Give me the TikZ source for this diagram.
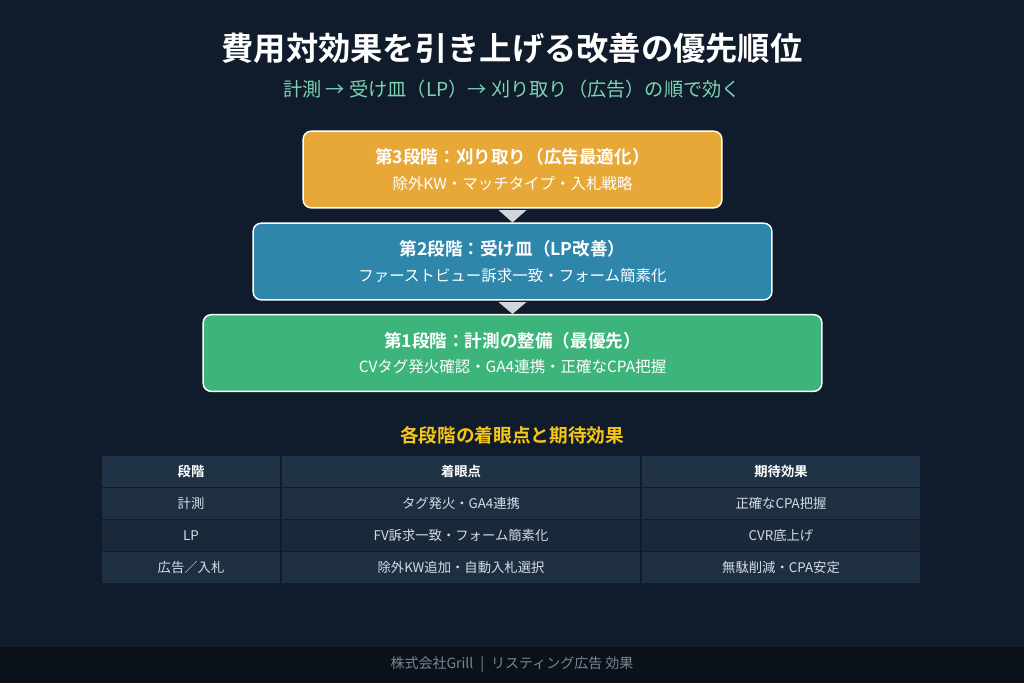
\documentclass[tikz,border=0pt]{standalone}
\usepackage{fontspec}
\setmainfont{Noto Sans CJK JP}[BoldFont={Noto Sans CJK JP Bold}]
\usetikzlibrary{calc}
\definecolor{fondo}{HTML}{101C2C}
\definecolor{pie}{HTML}{0A1119}
\definecolor{naranja}{HTML}{E8A838}
\definecolor{azul}{HTML}{2E86AB}
\definecolor{verde}{HTML}{3DB57A}
\definecolor{menta}{HTML}{7DD3B0}
\definecolor{oro}{HTML}{F5C518}
\definecolor{celdafondo}{HTML}{1E2F41}
\definecolor{celdaosc}{HTML}{192939}
\definecolor{celdacab}{HTML}{1F3246}
\definecolor{textotabla}{HTML}{D5DCE4}
\definecolor{gris}{HTML}{7A8594}
\definecolor{punta}{HTML}{D2D6DC}
\tikzset{
  caja/.style={draw=white,line width=1.1pt,rounded corners=6pt,text=white,align=center,minimum height=57.5pt,inner sep=0pt},
  flecha/.style={fill=punta,draw=none},
  celda/.style={fill=celdafondo,text=textotabla,minimum height=23.25pt,inner sep=0pt,font=\fontsize{10}{12}\selectfont},
  celdab/.style={celda,fill=celdaosc},
  cabecera/.style={celda,fill=celdacab,text=white,font=\fontsize{10}{12}\selectfont\bfseries},
}
\begin{document}
\begin{tikzpicture}[x=0.75pt,y=-0.75pt]
\fill[fondo] (0,0) rectangle (1024,683);
\fill[pie] (0,647) rectangle (1024,683);
\useasboundingbox (0,0) rectangle (1024,683);
% titulo
\node[text=white,font=\fontsize{24.2}{29}\selectfont\bfseries] (titulo) at (512,48) {費用対効果を引き上げる改善の優先順位};
\node[text=menta,font=\fontsize{14.4}{17}\selectfont] (subtitulo) at (512,89) {計測 → 受け皿（LP）→ 刈り取り（広告）の順で効く};
% etapas
\node[caja,fill=naranja,minimum width=314pt] (e3) at (512.5,169.5) {{\fontsize{13.2}{16}\selectfont\bfseries 第3段階：刈り取り（広告最適化）}\\[7pt]{\fontsize{11.6}{14}\selectfont 除外KW・マッチタイプ・入札戦略}};
\node[caja,fill=azul,minimum width=389pt] (e2) at (512.5,261.5) {{\fontsize{13.2}{16}\selectfont\bfseries 第2段階：受け皿（LP改善）}\\[7pt]{\fontsize{11.6}{14}\selectfont ファーストビュー訴求一致・フォーム簡素化}};
\node[caja,fill=verde,minimum width=464pt] (e1) at (512.5,353) {{\fontsize{13.2}{16}\selectfont\bfseries 第1段階：計測の整備（最優先）}\\[7pt]{\fontsize{11.6}{14}\selectfont CVタグ発火確認・GA4連携・正確なCPA把握}};
\fill[flecha] ($(e3.south)+(-14,1.5)$) -- ($(e3.south)+(14,1.5)$) -- (e2.north) -- cycle;
\fill[flecha] ($(e2.south)+(-14,1.5)$) -- ($(e2.south)+(14,1.5)$) -- (e1.north) -- cycle;
% tabla
\node[text=oro,font=\fontsize{14}{17}\selectfont\bfseries] (tabtitulo) at (512,435) {各段階の着眼点と期待効果};
\node[cabecera,minimum width=133.5pt] (t11) at (191,471.5) {段階};
\node[cabecera,minimum width=268.5pt] (t12) at (461,471.5) {着眼点};
\node[cabecera,minimum width=208.5pt] (t13) at (781,471.5) {期待効果};
\node[celda,minimum width=133.5pt] (t21) at (191,503.5) {計測};
\node[celda,minimum width=268.5pt] (t22) at (461,503.5) {タグ発火・GA4連携};
\node[celda,minimum width=208.5pt] (t23) at (781,503.5) {正確なCPA把握};
\node[celdab,minimum width=133.5pt] (t31) at (191,535.5) {LP};
\node[celdab,minimum width=268.5pt] (t32) at (461,535.5) {FV訴求一致・フォーム簡素化};
\node[celdab,minimum width=208.5pt] (t33) at (781,535.5) {CVR底上げ};
\node[celda,minimum width=133.5pt] (t41) at (191,567.5) {広告／入札};
\node[celda,minimum width=268.5pt] (t42) at (461,567.5) {除外KW追加・自動入札選択};
\node[celda,minimum width=208.5pt] (t43) at (781,567.5) {無駄削減・CPA安定};
% pie
\node[text=gris,font=\fontsize{10.5}{13}\selectfont] (firma) at (512,665) {株式会社Grill\enspace|\enspace リスティング広告 効果};
\end{tikzpicture}
\end{document}
